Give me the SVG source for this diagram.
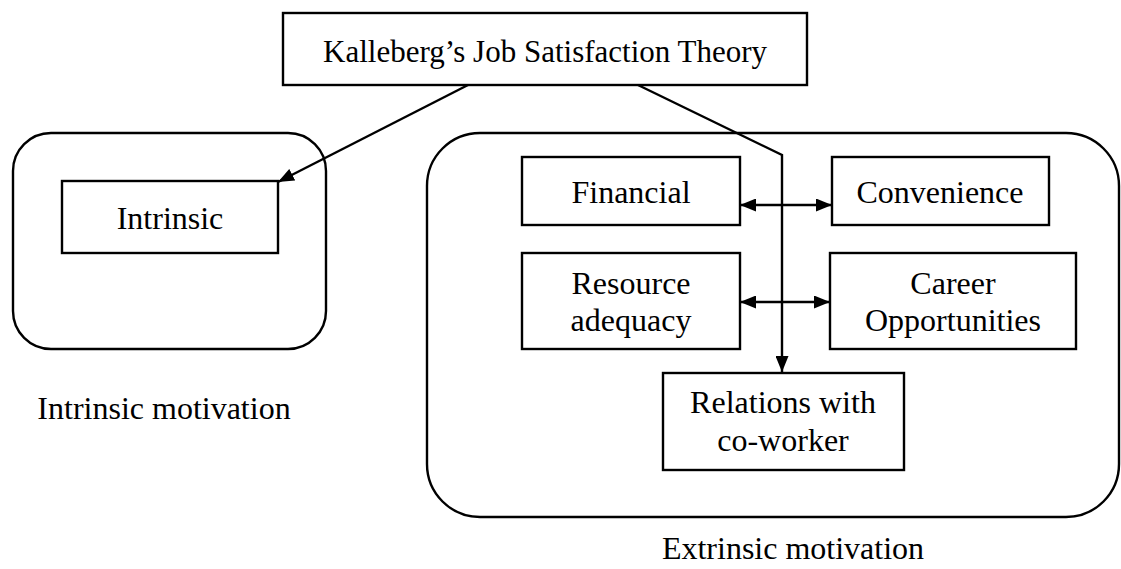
<svg xmlns="http://www.w3.org/2000/svg" width="1121" height="569" viewBox="0 0 1121 569">
  <style>
    .box { fill: #ffffff; stroke: #000000; stroke-width: 2.4; }
    .group { fill: none; stroke: #000000; stroke-width: 2.4; }
    .link { fill: none; stroke: #000000; stroke-width: 2.4; }
    text { font-family: "Liberation Serif", "Times New Roman", serif; font-size: 32px; fill: #000000; text-anchor: middle; }
  </style>
  <defs>
    <marker id="arrow" viewBox="0 0 16 13" refX="16" refY="6.5" markerWidth="16" markerHeight="13" markerUnits="userSpaceOnUse" orient="auto-start-reverse">
      <path d="M0,0 L16,6.5 L0,13 Z" fill="#000000"/>
    </marker>
  </defs>
  <rect width="1121" height="569" fill="#ffffff"/>

  <!-- motivation groups -->
  <g id="intrinsic-group">
    <rect class="group" x="13" y="133" width="313" height="216" rx="38" ry="38"/>
    <text x="164" y="419">Intrinsic motivation</text>
  </g>
  <g id="extrinsic-group">
    <rect class="group" x="427" y="133" width="692" height="384" rx="53" ry="53"/>
    <text x="793" y="559">Extrinsic motivation</text>
  </g>

  <!-- root -->
  <g id="theory">
    <rect class="box" x="283" y="13" width="524" height="72"/>
    <text x="545" y="62" style="font-size:31px">Kalleberg’s Job Satisfaction Theory</text>
  </g>

  <!-- factors -->
  <g id="intrinsic">
    <rect class="box" x="62" y="181" width="216" height="72"/>
    <text x="170" y="229">Intrinsic</text>
  </g>
  <g id="financial">
    <rect class="box" x="522" y="157" width="218" height="68"/>
    <text x="631" y="203">Financial</text>
  </g>
  <g id="convenience">
    <rect class="box" x="832" y="157" width="217" height="68"/>
    <text x="940" y="203">Convenience</text>
  </g>
  <g id="resource">
    <rect class="box" x="522" y="253" width="218" height="96"/>
    <text x="631" y="294">Resource</text>
    <text x="631" y="331">adequacy</text>
  </g>
  <g id="career">
    <rect class="box" x="830" y="253" width="246" height="96"/>
    <text x="953" y="294">Career</text>
    <text x="953" y="331">Opportunities</text>
  </g>
  <g id="relations">
    <rect class="box" x="663" y="373" width="241" height="97"/>
    <text x="783" y="413">Relations with</text>
    <text x="783" y="451">co-worker</text>
  </g>

  <!-- connectors -->
  <g id="connectors">
    <path class="link" d="M468,85 L278,182" marker-end="url(#arrow)"/>
    <path class="link" d="M638,85 L782,155 L782,372" marker-end="url(#arrow)"/>
    <path class="link" d="M740,205 L832,205" marker-start="url(#arrow)" marker-end="url(#arrow)"/>
    <path class="link" d="M740,302 L830,302" marker-start="url(#arrow)" marker-end="url(#arrow)"/>
  </g>
</svg>
